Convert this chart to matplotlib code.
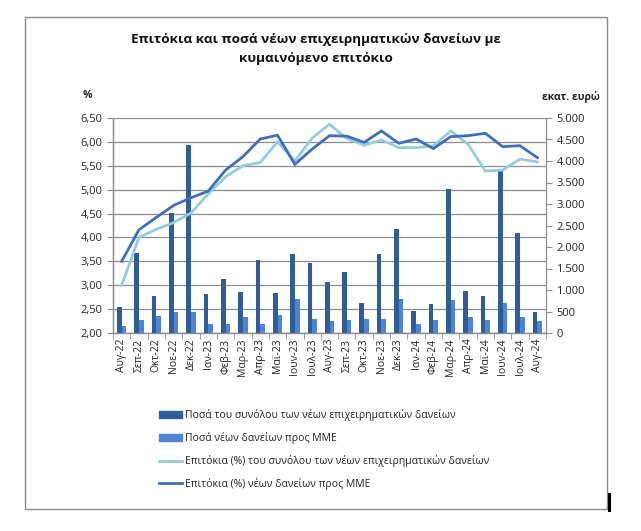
import numpy as np
import matplotlib
matplotlib.use("Agg")
import matplotlib.pyplot as plt
from matplotlib.patches import Rectangle, Patch
from matplotlib.lines import Line2D

plt.rcParams['font.family'] = ['Open Sans', 'DejaVu Sans']

# =============================
# Data
# =============================
months = ["Αυγ-22", "Σεπ-22", "Οκτ-22", "Νοε-22", "Δεκ-22", "Ιαν-23", "Φεβ-23",
          "Μαρ-23", "Απρ-23", "Μαϊ-23", "Ιουν-23", "Ιουλ-23", "Αυγ-23", "Σεπ-23",
          "Οκτ-23", "Νοε-23", "Δεκ-23", "Ιαν-24", "Φεβ-24", "Μαρ-24", "Απρ-24",
          "Μαϊ-24", "Ιουν-24", "Ιουλ-24", "Αυγ-24"]

# amounts, million euro (right axis)
total_amount = [600, 1870, 860, 2800, 4380, 900, 1250, 960, 1690, 940, 1830, 1620,
                1190, 1420, 690, 1830, 2430, 515, 670, 3340, 975, 850, 3770, 2320, 500]
sme_amount = [165, 310, 390, 500, 500, 210, 210, 375, 210, 410, 790, 335,
              275, 310, 335, 335, 790, 205, 295, 765, 375, 295, 690, 375, 275]

# rates, % (left axis)
total_rate = [3.00, 4.00, 4.17, 4.31, 4.51, 4.91, 5.27, 5.50, 5.57, 6.00, 5.60, 6.08,
              6.37, 6.07, 5.93, 6.04, 5.88, 5.88, 5.92, 6.23, 5.95, 5.39, 5.41, 5.64, 5.58]
sme_rate = [3.50, 4.16, 4.42, 4.67, 4.83, 4.97, 5.41, 5.69, 6.06, 6.14, 5.53, 5.85,
            6.13, 6.12, 5.99, 6.23, 5.97, 6.06, 5.86, 6.11, 6.13, 6.18, 5.90, 5.92, 5.67]

left_ticks = [2.0, 2.5, 3.0, 3.5, 4.0, 4.5, 5.0, 5.5, 6.0, 6.5]
right_ticks = [0, 500, 1000, 1500, 2000, 2500, 3000, 3500, 4000, 4500, 5000]

c_total_bar = "#2E5D98"
c_sme_bar = "#4D85D0"
c_total_line = "#93CDDD"
c_sme_line = "#3E6FB8"
grey = "#8C8C8C"

# =============================
# Figure
# =============================
fig = plt.figure(figsize=(6.41, 5.31), dpi=100)
W, H = 641, 531

# outer chart frame
fig.patches.append(Rectangle((25 / W, 1 - 509 / H), 582 / W, 492 / H,
                             transform=fig.transFigure, fill=False,
                             edgecolor=grey, lw=1.0))
fig.lines.append(Line2D([608.5 / W, 608.5 / W], [1 - 510 / H, 1 - 494 / H],
                        transform=fig.transFigure, color="black", lw=2.2))

rect = [113 / W, 1 - 333 / H, 433 / W, 215 / H]
ax = fig.add_axes(rect)          # left axis + gridlines
ax2 = ax.twinx()                 # bars, right axis
ax3 = ax.twinx()                 # lines on top

x = np.arange(len(months))
bw = 0.27

# gridlines on the base axis
ax.set_ylim(2.0, 6.5)
ax.set_yticks(left_ticks)
ax.set_yticklabels([f"{v:.2f}".replace(".", ",") for v in left_ticks])
ax.yaxis.grid(True, color=grey, lw=0.9)
ax.set_axisbelow(True)

# bars
ax2.bar(x - bw / 2, total_amount, bw, color=c_total_bar, zorder=2)
ax2.bar(x + bw / 2, sme_amount, bw, color=c_sme_bar, zorder=2)
ax2.set_ylim(0, 5000)
ax2.set_yticks(right_ticks)
ax2.set_yticklabels([f"{v:,}".replace(",", ".") for v in right_ticks])

# lines
ax3.plot(x, total_rate, color=c_total_line, lw=2.0, solid_joinstyle="miter")
ax3.plot(x, sme_rate, color=c_sme_line, lw=2.0, solid_joinstyle="miter")
ax3.set_ylim(2.0, 6.5)
ax3.set_yticks([])
for s in ax3.spines.values():
    s.set_visible(False)

ax.set_xlim(-0.5, len(months) - 0.5)
ax.set_xticks(x)
ax.set_xticklabels(months, rotation=90)
ax.set_xticks(np.arange(len(months) + 1) - 0.5, minor=True)
ax.tick_params(axis="x", which="major", length=0, labelsize=7.5, pad=4, colors="#222222")
ax.tick_params(axis="x", which="minor", length=4, color=grey)
ax.tick_params(axis="y", length=4, color=grey, labelsize=8, labelcolor="#222222")
ax2.tick_params(axis="y", length=4, color=grey, labelsize=8, labelcolor="#222222")

for a in (ax, ax2):
    a.spines["top"].set_visible(False)
    for k in ("left", "right", "bottom"):
        a.spines[k].set_color(grey)
        a.spines[k].set_linewidth(0.9)
ax.spines["right"].set_visible(False)

# =============================
# Texts
# =============================
fig.text(316 / W, 1 - 49 / H,
         "Επιτόκια και ποσά νέων επιχειρηματικών δανείων με\nκυμαινόμενο επιτόκιο",
         ha="center", va="center", fontsize=9.7, fontweight="bold",
         linespacing=1.6, color="#111111")
fig.text(87 / W, 1 - 95 / H, "%", ha="center", va="center", fontsize=7.5,
         fontweight="bold", color="#222222")
fig.text(571 / W, 1 - 97 / H, "εκατ. ευρώ", ha="center", va="center",
         fontsize=7.5, fontweight="bold", color="#222222")

# =============================
# Legend
# =============================
handles = [Patch(color=c_total_bar), Patch(color=c_sme_bar),
           Line2D([], [], color=c_total_line, lw=2),
           Line2D([], [], color=c_sme_line, lw=2)]
labels = ["Ποσά του συνόλου των νέων επιχειρηματικών δανείων",
          "Ποσά νέων δανείων προς ΜΜΕ",
          "Επιτόκια (%) του συνόλου των νέων επιχειρηματικών δανείων",
          "Επιτόκια (%) νέων δανείων προς ΜΜΕ"]
fig.legend(handles, labels, loc="upper left",
           bbox_to_anchor=(155 / W, 1 - 405 / H), frameon=False,
           fontsize=7.5, handlelength=2.2, handleheight=0.6,
           handletextpad=0.3, labelspacing=1.05, borderaxespad=0,
           labelcolor="#222222")

fig.savefig("out.png", dpi=100)
